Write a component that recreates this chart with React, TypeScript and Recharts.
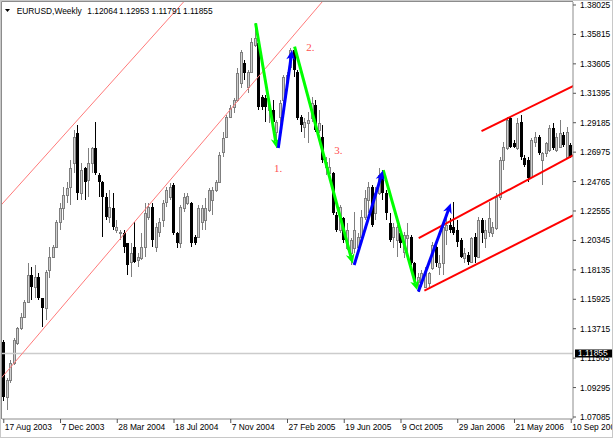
import React from 'react';
import { ComposedChart, Bar, XAxis, YAxis, ReferenceLine, ReferenceDot } from 'recharts';

const FONT = '"Liberation Sans", Arial, sans-serif';

// Weekly EURUSD candles, week 0 = 17 Aug 2003
const opens = [
  1.1274, 1.0861, 1.0987, 1.1112, 1.1262, 1.1375, 1.1462, 1.1575, 1.1775, 1.1687,
  1.1762, 1.1600, 1.1525, 1.1813, 1.1913, 1.1988, 1.2176, 1.2276, 1.2376, 1.2438,
  1.2614, 1.2839, 1.2388, 1.2576, 1.2488, 1.2614, 1.2726, 1.2526, 1.2476, 1.2363,
  1.2213, 1.2276, 1.2113, 1.2088, 1.2088, 1.2013, 1.1875, 1.1988, 1.1888, 1.1900,
  1.1988, 1.2213, 1.2288, 1.1988, 1.2100, 1.2188, 1.2326, 1.2363, 1.2451, 1.2088,
  1.2013, 1.2276, 1.2313, 1.2313, 1.2063, 1.2063, 1.2176, 1.2188, 1.2263, 1.2338,
  1.2413, 1.2476, 1.2701, 1.2814, 1.2964, 1.3039, 1.3089, 1.3214, 1.3364, 1.3189,
  1.3302, 1.3502, 1.3515, 1.3114, 1.3102, 1.3014, 1.3014, 1.2851, 1.2964, 1.3089,
  1.3227, 1.3339, 1.3465, 1.3302, 1.2964, 1.2889, 1.2914, 1.2951, 1.3052, 1.2864,
  1.2814, 1.2589, 1.2538, 1.2538, 1.2226, 1.2113, 1.2201, 1.1975, 1.1938, 1.1975,
  1.1988, 1.2063, 1.2213, 1.2338, 1.2438, 1.2238, 1.2388, 1.2526, 1.2388, 1.2163,
  1.2063, 1.2038, 1.2088, 1.1950, 1.2050, 1.2063, 1.1863, 1.1725, 1.1712, 1.1687,
  1.1712, 1.1825, 1.1988, 1.1838, 1.1863, 1.2113, 1.2150, 1.2138, 1.2113, 1.2038,
  1.1900, 1.1925, 1.1875, 1.2063, 1.1913, 1.2188, 1.2050, 1.2100, 1.2088, 1.2125,
  1.2363, 1.2639, 1.2726, 1.2951, 1.2764, 1.2726, 1.2926, 1.2651, 1.2639, 1.2513,
  1.2776, 1.2814, 1.2639, 1.2689, 1.2714, 1.2876, 1.2714, 1.2739, 1.2826, 1.2664,
  1.2751,
];
const highs = [
  1.1287, 1.0999, 1.1137, 1.1299, 1.1387, 1.1487, 1.1587, 1.1863, 1.1838, 1.1850,
  1.1788, 1.1605, 1.1813, 1.1988, 1.2000, 1.2188, 1.2313, 1.2438, 1.2476, 1.2639,
  1.2864, 1.2901, 1.2614, 1.2589, 1.2726, 1.2739, 1.2926, 1.2538, 1.2480, 1.2388,
  1.2413, 1.2388, 1.2188, 1.2113, 1.2113, 1.2018, 1.2013, 1.2176, 1.1938, 1.2088,
  1.2313, 1.2313, 1.2313, 1.2163, 1.2201, 1.2338, 1.2438, 1.2463, 1.2463, 1.2100,
  1.2301, 1.2388, 1.2388, 1.2326, 1.2075, 1.2301, 1.2301, 1.2351, 1.2426, 1.2438,
  1.2488, 1.2701, 1.2851, 1.2976, 1.3052, 1.3102, 1.3327, 1.3465, 1.3389, 1.3314,
  1.3552, 1.3665, 1.3527, 1.3127, 1.3127, 1.3064, 1.3089, 1.2939, 1.3089, 1.3277,
  1.3302, 1.3477, 1.3490, 1.3314, 1.2976, 1.2951, 1.3001, 1.3114, 1.3089, 1.3014,
  1.2901, 1.2664, 1.2651, 1.2551, 1.2251, 1.2301, 1.2213, 1.2163, 1.2050, 1.2251,
  1.2088, 1.2263, 1.2413, 1.2476, 1.2451, 1.2438, 1.2576, 1.2563, 1.2413, 1.2238,
  1.2163, 1.2150, 1.2138, 1.2100, 1.2163, 1.2075, 1.1875, 1.1788, 1.1813, 1.1838,
  1.1800, 1.2025, 1.2013, 1.1925, 1.2163, 1.2238, 1.2201, 1.2326, 1.2188, 1.2050,
  1.1975, 1.1950, 1.2063, 1.2088, 1.2213, 1.2201, 1.2188, 1.2326, 1.2176, 1.2388,
  1.2664, 1.2776, 1.2964, 1.2964, 1.2789, 1.2951, 1.2976, 1.2676, 1.2664, 1.2801,
  1.2851, 1.2826, 1.2701, 1.2776, 1.2901, 1.2914, 1.2839, 1.2939, 1.2851, 1.2889,
  1.2764,
];
const lows = [
  1.0830, 1.0761, 1.0962, 1.1099, 1.1249, 1.1362, 1.1450, 1.1562, 1.1587, 1.1600,
  1.1587, 1.1387, 1.1437, 1.1750, 1.1900, 1.1975, 1.2113, 1.2188, 1.2313, 1.2301,
  1.2538, 1.2338, 1.2338, 1.2338, 1.2363, 1.2538, 1.2526, 1.2363, 1.2063, 1.2188,
  1.2163, 1.2113, 1.2088, 1.2038, 1.1938, 1.1775, 1.1762, 1.1863, 1.1838, 1.1888,
  1.1913, 1.2188, 1.1988, 1.1950, 1.2063, 1.2138, 1.2288, 1.2338, 1.2075, 1.1975,
  1.1975, 1.2251, 1.2301, 1.1988, 1.2000, 1.2050, 1.2113, 1.2113, 1.2251, 1.2226,
  1.2401, 1.2463, 1.2664, 1.2801, 1.2951, 1.2989, 1.3077, 1.3177, 1.3239, 1.3139,
  1.3289, 1.3490, 1.3014, 1.3014, 1.2926, 1.2914, 1.2851, 1.2726, 1.2901, 1.3064,
  1.3189, 1.3314, 1.3264, 1.2939, 1.2851, 1.2801, 1.2764, 1.2926, 1.2851, 1.2839,
  1.2614, 1.2526, 1.2513, 1.2226, 1.2100, 1.2088, 1.2013, 1.1963, 1.1850, 1.1938,
  1.1963, 1.2038, 1.2188, 1.2238, 1.2138, 1.2188, 1.2376, 1.2338, 1.2188, 1.2025,
  1.1975, 1.1913, 1.1975, 1.1900, 1.1888, 1.1850, 1.1712, 1.1650, 1.1687, 1.1675,
  1.1687, 1.1813, 1.1838, 1.1775, 1.1775, 1.2000, 1.2088, 1.2075, 1.1988, 1.1900,
  1.1863, 1.1850, 1.1863, 1.1863, 1.1900, 1.2013, 1.1975, 1.2063, 1.2063, 1.2113,
  1.2338, 1.2563, 1.2714, 1.2726, 1.2726, 1.2714, 1.2639, 1.2589, 1.2476, 1.2501,
  1.2739, 1.2676, 1.2451, 1.2664, 1.2701, 1.2714, 1.2701, 1.2726, 1.2739, 1.2651,
  1.2651,
];
const closes = [
  1.0861, 1.0987, 1.1112, 1.1287, 1.1375, 1.1462, 1.1575, 1.1775, 1.1687, 1.1762,
  1.1600, 1.1525, 1.1800, 1.1913, 1.1988, 1.2176, 1.2276, 1.2376, 1.2426, 1.2576,
  1.2814, 1.2388, 1.2563, 1.2476, 1.2614, 1.2726, 1.2538, 1.2476, 1.2363, 1.2213,
  1.2288, 1.2138, 1.2138, 1.2100, 1.1988, 1.1850, 1.1938, 1.1875, 1.1913, 1.1988,
  1.2238, 1.2288, 1.2038, 1.2138, 1.2176, 1.2313, 1.2413, 1.2438, 1.2088, 1.2013,
  1.2288, 1.2363, 1.2368, 1.2013, 1.2013, 1.2276, 1.2276, 1.2276, 1.2413, 1.2413,
  1.2476, 1.2676, 1.2801, 1.2964, 1.3027, 1.3089, 1.3289, 1.3452, 1.3289, 1.3302,
  1.3527, 1.3552, 1.3039, 1.3039, 1.3039, 1.3052, 1.2926, 1.2926, 1.3064, 1.3264,
  1.3277, 1.3465, 1.3314, 1.2951, 1.2901, 1.2926, 1.2939, 1.3064, 1.2864, 1.2914,
  1.2639, 1.2626, 1.2589, 1.2238, 1.2113, 1.2288, 1.2038, 1.2113, 1.2038, 1.2113,
  1.2063, 1.2213, 1.2351, 1.2438, 1.2150, 1.2388, 1.2526, 1.2388, 1.2238, 1.2038,
  1.2138, 1.2138, 1.2013, 1.2075, 1.2075, 1.1863, 1.1737, 1.1762, 1.1788, 1.1788,
  1.1788, 1.2000, 1.1863, 1.1863, 1.2138, 1.2150, 1.2113, 1.2088, 1.2025, 1.1913,
  1.1938, 1.1875, 1.2050, 1.1913, 1.2188, 1.2088, 1.2113, 1.2201, 1.2138, 1.2363,
  1.2639, 1.2739, 1.2939, 1.2739, 1.2739, 1.2914, 1.2664, 1.2601, 1.2501, 1.2789,
  1.2814, 1.2689, 1.2689, 1.2764, 1.2876, 1.2726, 1.2814, 1.2839, 1.2751, 1.2851,
  1.2664,
];

const dateTickWeeks = [0, 16, 32, 48, 64, 80, 96, 112, 128, 144, 160];
const dateTickLabels = [
  '17 Aug 2003', '7 Dec 2003', '28 Mar 2004', '18 Jul 2004', '7 Nov 2004', '27 Feb 2005',
  '19 Jun 2005', '9 Oct 2005', '29 Jan 2006', '21 May 2006', '10 Sep 2006',
];
const priceTicks = [
  1.07085, 1.09295, 1.11505, 1.13715, 1.15925, 1.18135, 1.20345, 1.22555,
  1.24765, 1.26975, 1.29185, 1.31395, 1.33605, 1.35815, 1.38025,
];
const priceDomain = [1.06935, 1.3825];
const symbolName = 'EURUSD,Weekly';
const headerOHLC = [1.12064, 1.12953, 1.11791, 1.11855];
const lastPrice = 1.11855;

// drawing objects: [week, price] pairs
const greenSwings = [
  [[71, 1.3665], [77, 1.2726]],
  [[82, 1.349], [98.4, 1.186]],
  [[107, 1.2563], [116.6, 1.166]],
];
const blueSwings = [
  [[77.4, 1.2729], [81.3, 1.3464]],
  [[98.8, 1.185], [106.9, 1.256]],
  [[116.9, 1.165], [126.05, 1.2313]],
];
const redChannel = [
  [[134.7, 1.2856], [166, 1.3266]],
  [[117.0, 1.2051], [166, 1.2752]],
  [[118.6, 1.1657], [166, 1.2297]],
];
const thinChannel = [
  [[-2, 1.2263], [55, 1.3953]],
  [[-2, 1.096], [95, 1.3989]],
];
const waveLabels = [
  { text: '1.', week: 76.2, price: 1.2578 },
  { text: '2.', week: 85.3, price: 1.3487 },
  { text: '3.', week: 93.2, price: 1.2714 },
];

const candles = opens.map((o, i) => ({
  week: i,
  open: o,
  high: highs[i],
  low: lows[i],
  close: closes[i],
}));

function Candle(props: any) {
  const { x, y, width, height, payload } = props;
  if (payload == null || x == null || y == null || height == null) return null;
  const { open, close, high, low } = payload;
  const top = Math.min(y, y + height);
  const h = Math.abs(height);
  const k = high > low ? h / (high - low) : 0;
  const yOf = (v: number) => top + (high - v) * k;
  const cx = Math.floor(x + width / 2);
  const bull = close >= open;
  const bTop = Math.round(yOf(Math.max(open, close)));
  const bBot = Math.round(yOf(Math.min(open, close)));
  const wTop = Math.round(top);
  const wBot = Math.round(top + h);
  const wick = bull ? '#7f7f7f' : '#000000';
  return (
    <g>
      <rect x={cx} y={wTop} width={1} height={Math.max(1, wBot - wTop)} fill={wick} />
      {bull ? (
        <rect x={cx - 0.5} y={bTop + 0.5} width={2} height={Math.max(1, bBot - bTop)} fill="#d0d0d0" stroke="#7f7f7f" strokeWidth={1} />
      ) : (
        <rect x={cx - 1} y={bTop} width={3} height={Math.max(1, bBot - bTop)} fill="#000000" />
      )}
    </g>
  );
}

const arrowShape = (color: string) => (p: any) => {
  const { x1, y1, x2, y2 } = p;
  if ([x1, y1, x2, y2].some((v) => v == null || Number.isNaN(v))) return null;
  const dx = x2 - x1;
  const dy = y2 - y1;
  const len = Math.hypot(dx, dy) || 1;
  const ux = dx / len;
  const uy = dy / len;
  const head = 10;
  const half = 4.5;
  const bx = x2 - ux * head;
  const by = y2 - uy * head;
  const nx = bx + ux * 3;
  const ny = by + uy * 3;
  return (
    <g>
      <line x1={x1} y1={y1} x2={nx} y2={ny} stroke={color} strokeWidth={3} />
      <polygon
        points={`${x2},${y2} ${bx - uy * half},${by + ux * half} ${nx},${ny} ${bx + uy * half},${by - ux * half}`}
        fill={color}
      />
    </g>
  );
};

const DateTick = (props: any) => {
  const { x, y, payload } = props;
  const idx = dateTickWeeks.indexOf(Number(payload.value));
  if (idx < 0) return null;
  return (
    <text x={x + 1} y={y + 7} textAnchor="start" fontSize={8.4} fontFamily={FONT} fill="#000">
      {dateTickLabels[idx]}
    </text>
  );
};

const priceLineShape = (p: any) => {
  const left = Math.min(p.x1, p.x2);
  const right = Math.max(p.x1, p.x2);
  const yy = p.y1;
  return (
    <g>
      <line x1={left} x2={right} y1={yy} y2={yy} stroke="#cccccc" strokeWidth={1.5} />
      <rect x={right + 2} y={yy - 4} width={42} height={8} fill="#000" />
      <text x={right + 5} y={yy} dy="0.35em" fontSize={8.4} fontFamily={FONT} fill="#fff">
        {lastPrice.toFixed(5)}
      </text>
    </g>
  );
};

const labelShape = (text: string) => (p: any) => (
  <text x={p.cx} y={p.cy} dy="0.35em" fontSize={11} fontFamily='"Liberation Serif", serif' fill="#ff5050">
    {text}
  </text>
);

const headerX = [87.3, 119, 151.6, 183];

export default function App() {
  return (
    <div style={{ position: 'absolute', left: 0, top: 0, width: 613, height: 439, background: '#fff', overflow: 'hidden' }}>
      <ComposedChart
        width={613}
        height={439}
        data={candles}
        margin={{ top: 2, right: 0, bottom: 0, left: 2 }}
      >
        <XAxis
          dataKey="week"
          type="category"
          ticks={dateTickWeeks}
          interval={0}
          tick={<DateTick />}
          tickSize={4}
          tickMargin={0}
          height={20}
          axisLine={{ stroke: '#8c8c8c' }}
          tickLine={{ stroke: '#555' }}
        />
        <XAxis xAxisId="num" dataKey="week" type="number" domain={[-0.5, 160.5]} allowDataOverflow hide />
        <YAxis
          orientation="right"
          type="number"
          domain={priceDomain}
          allowDataOverflow
          ticks={priceTicks}
          interval={0}
          width={40}
          tickSize={3}
          tickMargin={4}
          tickFormatter={(v: number) => v.toFixed(5)}
          tick={{ fontSize: 8.4, fontFamily: FONT, fill: '#000' }}
          axisLine={{ stroke: '#8c8c8c' }}
          tickLine={{ stroke: '#555' }}
        />
        <ReferenceLine y={lastPrice} shape={priceLineShape} />
        <Bar
          dataKey={(d: any) => [d.low, d.high]}
          barSize={3}
          isAnimationActive={false}
          shape={<Candle />}
        />
        {thinChannel.map((seg, k) => (
          <ReferenceLine
            key={`thin${k}`}
            xAxisId="num"
            segment={[{ x: seg[0][0], y: seg[0][1] }, { x: seg[1][0], y: seg[1][1] }]}
            ifOverflow="hidden"
            stroke="#ff7a7a"
            strokeWidth={1}
          />
        ))}
        {redChannel.map((seg, k) => (
          <ReferenceLine
            key={`red${k}`}
            xAxisId="num"
            segment={[{ x: seg[0][0], y: seg[0][1] }, { x: seg[1][0], y: seg[1][1] }]}
            ifOverflow="hidden"
            stroke="#ff0000"
            strokeWidth={2}
          />
        ))}
        {greenSwings.map((seg, k) => (
          <ReferenceLine
            key={`g${k}`}
            xAxisId="num"
            segment={[{ x: seg[0][0], y: seg[0][1] }, { x: seg[1][0], y: seg[1][1] }]}
            ifOverflow="hidden"
            shape={arrowShape('#00ff00')}
          />
        ))}
        {blueSwings.map((seg, k) => (
          <ReferenceLine
            key={`b${k}`}
            xAxisId="num"
            segment={[{ x: seg[0][0], y: seg[0][1] }, { x: seg[1][0], y: seg[1][1] }]}
            ifOverflow="hidden"
            shape={arrowShape('#0000ff')}
          />
        ))}
        {waveLabels.map((l) => (
          <ReferenceDot key={l.text} xAxisId="num" x={l.week} y={l.price} r={1} shape={labelShape(l.text)} />
        ))}
      </ComposedChart>
      <svg width={613} height={439} style={{ position: 'absolute', left: 0, top: 0, pointerEvents: 'none' }}>
        <rect x={0.5} y={0.5} width={612} height={437} fill="none" stroke="#c8c8c8" />
        <line x1={1.5} y1={1.5} x2={573} y2={1.5} stroke="#8c8c8c" />
        <line x1={1.5} y1={1.5} x2={1.5} y2={419} stroke="#8c8c8c" />
        <polygon points="5,9 10,9 7.5,12" fill="#000" />
        <text x={16.7} y={13.6} fontSize={8.4} fontFamily={FONT} fill="#000">{symbolName}</text>
        {headerOHLC.map((v, k) => (
          <text key={k} x={headerX[k]} y={13.6} fontSize={8.4} fontFamily={FONT} fill="#000">{v.toFixed(5)}</text>
        ))}
      </svg>
    </div>
  );
}
